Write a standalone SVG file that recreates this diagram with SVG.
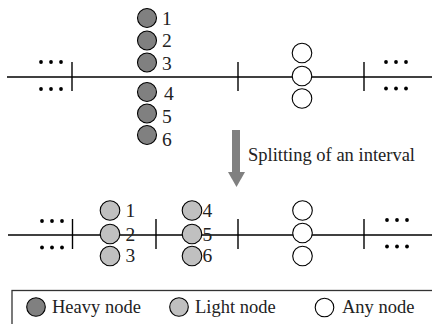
<svg xmlns="http://www.w3.org/2000/svg" width="432" height="324" viewBox="0 0 432 324">
<style>
.axis{stroke:#000;stroke-width:1.3;fill:none}
.tick{stroke:#000;stroke-width:1.4}
.heavy{fill:#808080;stroke:#000;stroke-width:1.1}
.light{fill:#c0c0c0;stroke:#000;stroke-width:1.1}
.any{fill:#fff;stroke:#000;stroke-width:1.1}
.dot{fill:#000}
text{font-family:"Liberation Serif","Times New Roman",serif;font-size:18.5px;fill:#222}
.num{font-size:19.5px}
</style>
<rect width="432" height="324" fill="#fff"/>
<g id="connectors">
  <line class="axis" x1="7" y1="77" x2="432" y2="77"/>
  <line class="tick" x1="72" y1="62" x2="72" y2="91"/>
  <line class="tick" x1="238" y1="62" x2="238" y2="91"/>
  <line class="tick" x1="364" y1="62" x2="364" y2="91"/>
  <line class="axis" x1="8" y1="235" x2="432" y2="235"/>
  <line class="tick" x1="72.5" y1="219" x2="72.5" y2="249"/>
  <line class="tick" x1="156" y1="219" x2="156" y2="249"/>
  <line class="tick" x1="238" y1="219" x2="238" y2="249"/>
  <line class="tick" x1="364" y1="219" x2="364" y2="249"/>
</g>
<g id="dots">
  <circle class="dot" cx="41" cy="62" r="1.9"/><circle class="dot" cx="51" cy="62" r="1.9"/><circle class="dot" cx="61" cy="62" r="1.9"/>
  <circle class="dot" cx="41" cy="89" r="1.9"/><circle class="dot" cx="51" cy="89" r="1.9"/><circle class="dot" cx="61" cy="89" r="1.9"/>
  <circle class="dot" cx="386" cy="62" r="1.9"/><circle class="dot" cx="396" cy="62" r="1.9"/><circle class="dot" cx="406" cy="62" r="1.9"/>
  <circle class="dot" cx="386" cy="88.5" r="1.9"/><circle class="dot" cx="396" cy="88.5" r="1.9"/><circle class="dot" cx="406" cy="88.5" r="1.9"/>
  <circle class="dot" cx="42" cy="221" r="1.9"/><circle class="dot" cx="52" cy="221" r="1.9"/><circle class="dot" cx="62" cy="221" r="1.9"/>
  <circle class="dot" cx="42" cy="247.5" r="1.9"/><circle class="dot" cx="52" cy="247.5" r="1.9"/><circle class="dot" cx="62" cy="247.5" r="1.9"/>
  <circle class="dot" cx="387" cy="220" r="1.9"/><circle class="dot" cx="397" cy="220" r="1.9"/><circle class="dot" cx="407" cy="220" r="1.9"/>
  <circle class="dot" cx="387" cy="246.5" r="1.9"/><circle class="dot" cx="397" cy="246.5" r="1.9"/><circle class="dot" cx="407" cy="246.5" r="1.9"/>
</g>
<g id="heavy-nodes">
  <circle class="heavy" cx="147" cy="18" r="9.5"/><text class="num" x="162" y="25">1</text>
  <circle class="heavy" cx="147" cy="40.5" r="9.5"/><text class="num" x="162" y="47">2</text>
  <circle class="heavy" cx="147" cy="62.5" r="9.5"/><text class="num" x="162" y="70">3</text>
  <circle class="heavy" cx="147" cy="92" r="9.5"/><text class="num" x="164" y="100">4</text>
  <circle class="heavy" cx="147" cy="113.5" r="9.5"/><text class="num" x="162" y="123">5</text>
  <circle class="heavy" cx="147" cy="135" r="9.5"/><text class="num" x="162" y="145.5">6</text>
</g>
<g id="any-top">
  <circle class="any" cx="302" cy="53" r="9.8"/>
  <circle class="any" cx="302" cy="76" r="9.8"/>
  <circle class="any" cx="302" cy="98.5" r="9.8"/>
</g>
<g id="arrow">
  <rect x="232" y="130" width="8" height="43" fill="#808080"/>
  <polygon points="228,172 245,172 236.5,187" fill="#808080"/>
  <text x="248" y="160.5">Splitting of an interval</text>
</g>
<g id="light-nodes-1">
  <circle class="light" cx="110" cy="210.5" r="9.8"/><text class="num" x="125.5" y="216.5">1</text>
  <circle class="light" cx="110" cy="234" r="9.8"/><text class="num" x="125.5" y="240.5">2</text>
  <circle class="light" cx="110" cy="256" r="9.8"/><text class="num" x="125.5" y="262">3</text>
</g>
<g id="light-nodes-2">
  <circle class="light" cx="192" cy="210.5" r="9.8"/><text class="num" x="202.5" y="216.5">4</text>
  <circle class="light" cx="192" cy="234" r="9.8"/><text class="num" x="202.5" y="240.5">5</text>
  <circle class="light" cx="192" cy="256" r="9.8"/><text class="num" x="202.5" y="262">6</text>
</g>
<g id="any-bottom">
  <circle class="any" cx="302.5" cy="210.5" r="9.8"/>
  <circle class="any" cx="302.5" cy="233" r="9.8"/>
  <circle class="any" cx="302.5" cy="256" r="9.8"/>
</g>
<g id="legend">
  <rect x="12" y="290.5" width="430" height="40" fill="none" stroke="#333" stroke-width="1.3"/>
  <circle class="heavy" cx="36" cy="307" r="9.3"/><text x="52" y="313">Heavy node</text>
  <circle class="light" cx="179" cy="307" r="9.3"/><text x="195" y="313">Light node</text>
  <circle class="any" cx="324.5" cy="307.5" r="9.3"/><text x="342" y="313">Any node</text>
</g>
</svg>
